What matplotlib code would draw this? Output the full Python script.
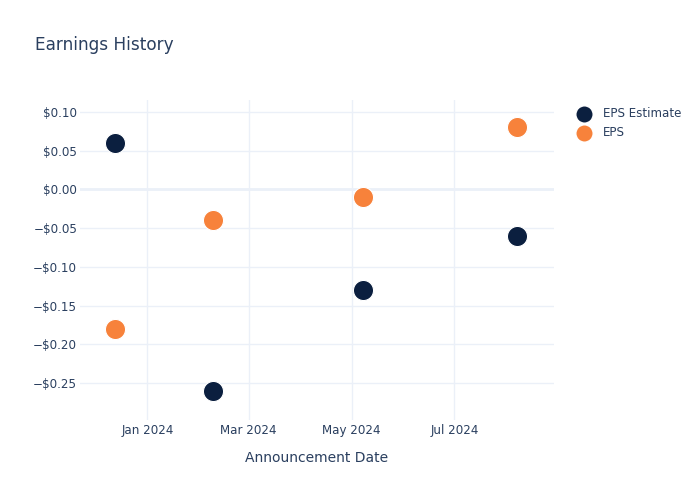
import matplotlib
matplotlib.use("Agg")
import matplotlib.pyplot as plt
import matplotlib.dates as mdates
import matplotlib.ticker as mticker
import pandas as pd

# announcement dates and EPS values
dates = pd.to_datetime(["2023-12-13", "2024-02-09", "2024-05-08", "2024-08-07"])
eps_estimate = [0.06, -0.26, -0.13, -0.06]
eps_actual = [-0.18, -0.04, -0.01, 0.08]

text_col = "#2a3f5f"
grid_col = "#EBF0F8"
navy = "#0b1f3f"
orange = "#f7823b"

fig = plt.figure(figsize=(7, 5), dpi=100)
ax = fig.add_axes([0.1143, 0.16, 0.677, 0.64])

ax.scatter(dates, eps_estimate, s=210, color=navy, edgecolor="white", linewidth=0.8, zorder=3, label="EPS Estimate")
ax.scatter(dates, eps_actual, s=210, color=orange, edgecolor="white", linewidth=0.8, zorder=3, label="EPS")

ax.set_xlim(pd.Timestamp("2023-11-22"), pd.Timestamp("2024-08-29"))
ax.set_ylim(-0.2978, 0.1155)

ax.xaxis.set_major_locator(mdates.MonthLocator(bymonth=[1, 3, 5, 7]))
ax.xaxis.set_major_formatter(mdates.DateFormatter("%b %Y"))
ax.yaxis.set_major_locator(mticker.MultipleLocator(0.05))
ax.yaxis.set_major_formatter(mticker.FuncFormatter(
    lambda v, p: ("\u2212$%.2f" % abs(v)) if v < -1e-9 else "$%.2f" % abs(v)))

ax.grid(True, color=grid_col, linewidth=1)
ax.axhline(0, color=grid_col, linewidth=2, zorder=1)
ax.set_axisbelow(True)
for s in ax.spines.values():
    s.set_visible(False)
ax.tick_params(length=0, labelsize=8.6, labelcolor=text_col)
ax.tick_params(axis="x", pad=3)
ax.tick_params(axis="y", pad=2)

ax.set_xlabel("Announcement Date", fontsize=10, color=text_col, labelpad=10)
fig.text(0.05, 0.9, "Earnings History", fontsize=12.2, color=text_col)

leg = ax.legend(loc="upper left", bbox_to_anchor=(1.016, 1.012), frameon=False,
                fontsize=8.6, labelcolor=text_col, handletextpad=0.6,
                labelspacing=0.5, markerscale=0.85)

fig.savefig("out.png", dpi=100)
